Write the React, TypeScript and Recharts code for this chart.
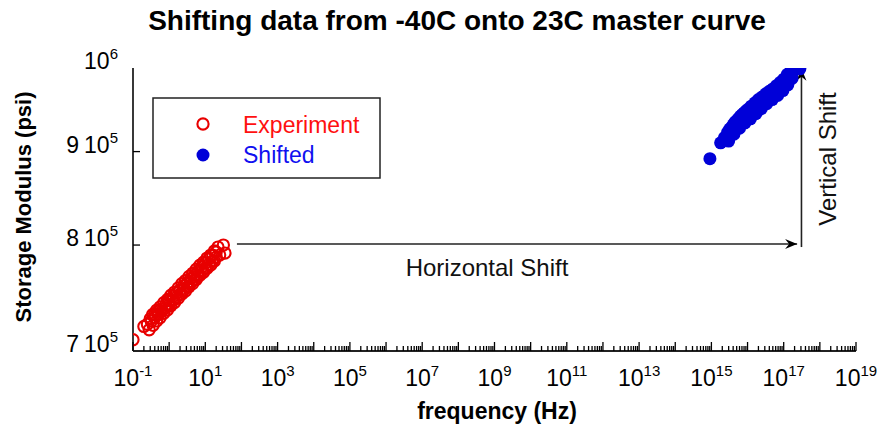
import React from "react";
import { ScatterChart, Scatter, XAxis, YAxis, ReferenceLine } from "recharts";

// Storage modulus measured at -40C (several sweeps)
const experimentFreq = [
  0.1, 0.2, 0.3, 0.4, 0.5, 0.6, 0.8, 1.0, 1.3, 1.6, 2.0, 2.5, 3.2, 4.0, 5.0,
  6.3, 8.0, 10, 12.6, 16, 20, 31.6,
  0.25, 0.32, 0.4, 0.5, 0.63, 0.79, 1.0, 1.26, 1.58, 2.0, 2.5, 3.2, 4.0, 5.0,
  6.3, 8.0, 10, 12.6, 15.8, 20, 25, 35,
  0.35, 0.45, 0.56, 0.71, 0.9, 1.12, 1.41, 1.78, 2.24, 2.82, 3.55, 4.47, 5.62,
  7.08, 8.91, 11.2, 14.1, 17.8, 22.4,
  0.28, 0.36, 0.45, 0.56, 0.71, 0.89, 1.12, 1.41, 1.78, 2.24, 2.82, 3.55,
  4.47, 5.62, 7.08, 8.91, 11.2, 14.1, 17.8,
];
const experimentModulus = [
  7.1e5, 7.22e5, 7.29e5, 7.33e5, 7.36e5, 7.38e5, 7.42e5, 7.46e5, 7.5e5, 7.53e5,
  7.56e5, 7.6e5, 7.63e5, 7.67e5, 7.7e5, 7.74e5, 7.78e5, 7.82e5, 7.86e5, 7.9e5,
  7.93e5, 8.0e5,
  7.24e5, 7.27e5, 7.3e5, 7.33e5, 7.36e5, 7.39e5, 7.42e5, 7.46e5, 7.49e5,
  7.52e5, 7.56e5, 7.59e5, 7.63e5, 7.66e5, 7.7e5, 7.74e5, 7.77e5, 7.81e5,
  7.84e5, 7.88e5, 7.9e5, 7.92e5,
  7.33e5, 7.37e5, 7.4e5, 7.44e5, 7.47e5, 7.51e5, 7.54e5, 7.58e5, 7.62e5,
  7.65e5, 7.69e5, 7.72e5, 7.76e5, 7.8e5, 7.83e5, 7.87e5, 7.9e5, 7.94e5, 7.98e5,
  7.19e5, 7.23e5, 7.27e5, 7.3e5, 7.34e5, 7.37e5, 7.41e5, 7.44e5, 7.48e5,
  7.52e5, 7.55e5, 7.59e5, 7.62e5, 7.66e5, 7.7e5, 7.73e5, 7.77e5, 7.8e5, 7.84e5,
];

// Same data after shifting onto the 23C master curve
const shiftedFreq = [
  9.1e14, 1.8e15, 2.3e15, 2.8e15, 3.2e15, 3.6e15, 4.0e15, 4.5e15, 5.0e15,
  5.6e15, 6.3e15, 7.1e15, 8.0e15, 9.0e15, 1.0e16, 1.26e16, 1.6e16, 2.0e16,
  2.5e16, 3.2e16, 4.0e16, 5.0e16, 6.3e16, 8.0e16, 1.0e17, 1.26e17, 1.6e17,
  2.0e17, 2.5e17, 2.8e17,
  2.5e15, 3.5e15, 5e15, 7e15, 1e16, 1.4e16, 2e16, 2.8e16, 4e16, 5.6e16, 8e16,
  1.1e17, 1.5e17, 1.8e17,
  3e15, 4.2e15, 6e15, 8.5e15, 1.2e16, 1.7e16, 2.4e16, 3.4e16, 4.8e16, 6.8e16,
  9.5e16, 1.3e17, 1.7e17,
];
const shiftedModulus = [
  8.92e5, 9.1e5, 9.16e5, 9.22e5, 9.26e5, 9.28e5, 9.31e5, 9.34e5, 9.36e5,
  9.38e5, 9.41e5, 9.43e5, 9.45e5, 9.47e5, 9.49e5, 9.53e5, 9.57e5, 9.61e5,
  9.64e5, 9.68e5, 9.71e5, 9.74e5, 9.78e5, 9.82e5, 9.86e5, 9.92e5, 9.97e5,
  9.99e5, 1.0e6, 9.99e5,
  9.13e5, 9.2e5, 9.29e5, 9.36e5, 9.42e5, 9.48e5, 9.55e5, 9.6e5, 9.66e5,
  9.71e5, 9.76e5, 9.82e5, 9.9e5, 9.95e5,
  9.12e5, 9.2e5, 9.27e5, 9.33e5, 9.38e5, 9.44e5, 9.5e5, 9.56e5, 9.61e5,
  9.66e5, 9.72e5, 9.79e5, 9.87e5,
];

// Arrow end points [freq, modulus]
const horizontalArrow = [
  [75, 8.01e5],
  [2.35e17, 8.01e5],
];
const verticalArrow = [
  [3.1e17, 7.98e5],
  [3.1e17, 9.99e5],
];

const xDomain = [0.1, 1e19];
const xLabelExponents = [-1, 1, 3, 5, 7, 9, 11, 13, 15, 17, 19];
const yTickValues = [7e5, 8e5, 9e5, 1e6];
const yTickLabels = [
  { digit: "7", sup: "5" },
  { digit: "8", sup: "5" },
  { digit: "9", sup: "5" },
  { digit: "", sup: "6" },
];

const FONT = "'Liberation Sans', Arial, Helvetica, sans-serif";
const RED = "#e80000";
const BLUE = "#0000d8";

const W = 878;
const H = 429;
const PLOT = { left: 133, right: 856, top: 68, bottom: 351 };

// decade ticks plus 2..9 minor ticks for the log frequency axis
const xTicks: number[] = [];
for (let e = -1; e < 19; e++) {
  for (let k = 1; k <= 9; k++) xTicks.push(k * Math.pow(10, e));
}
xTicks.push(1e19);

const experimentData = experimentFreq.map((f, i) => ({ f, g: experimentModulus[i] }));
const shiftedData = shiftedFreq.map((f, i) => ({ f, g: shiftedModulus[i] }));

const isDecade = (v: number) => {
  const l = Math.log10(v);
  return Math.abs(l - Math.round(l)) < 1e-6;
};

const makeXTick = (side: "bottom" | "top") => (props: any) => {
  const { x, y, payload } = props;
  const v = payload.value;
  const major = isDecade(v);
  const dir = side === "bottom" ? -1 : 1;
  const len = major ? 9 : 5;
  const exp = Math.round(Math.log10(v));
  const labelled = side === "bottom" && major && xLabelExponents.includes(exp);
  return (
    <g>
      <line x1={x} x2={x} y1={y} y2={y + dir * len} stroke="#000" strokeWidth={1.3} />
      {labelled && (
        <text x={x} y={y + 35} textAnchor="middle" fontFamily={FONT} fontSize={23} fill="#000">
          10
          <tspan dy={-10} fontSize={15}>
            {exp}
          </tspan>
        </text>
      )}
    </g>
  );
};

const makeYTick = (side: "left" | "right") => (props: any) => {
  const { x, y, payload } = props;
  const dir = side === "left" ? 1 : -1;
  const idx = yTickValues.findIndex((t) => Math.abs(t - payload.value) < 1);
  const lab = yTickLabels[idx];
  const edge = idx === 0 || idx === yTickValues.length - 1;
  return (
    <g>
      {!edge && <line x1={x} x2={x + dir * 7} y1={y} y2={y} stroke="#000" strokeWidth={1.3} />}
      {side === "left" && lab && (
        <text x={x - 15} y={y + 1} textAnchor="end" fontFamily={FONT} fontSize={23} fill="#000">
          {lab.digit}
          <tspan dx={lab.digit ? 5 : 0}>10</tspan>
          <tspan dy={-10} fontSize={15}>
            {lab.sup}
          </tspan>
        </text>
      )}
    </g>
  );
};

const OpenCircle = (props: any) => (
  <circle cx={props.cx} cy={props.cy} r={5.6} fill="none" stroke={RED} strokeWidth={2.1} />
);
const FilledCircle = (props: any) => (
  <circle cx={props.cx} cy={props.cy} r={6.5} fill={BLUE} />
);

// line with a notched arrow head at (x2, y2)
const Arrow = (props: any) => {
  const { x1, y1, x2, y2 } = props;
  const ang = Math.atan2(y2 - y1, x2 - x1);
  const pt = (back: number, side: number) => {
    const px = x2 - back * Math.cos(ang) - side * Math.sin(ang);
    const py = y2 - back * Math.sin(ang) + side * Math.cos(ang);
    return `${px},${py}`;
  };
  return (
    <g>
      <line x1={x1} y1={y1} x2={x2} y2={y2} stroke="#222" strokeWidth={1.6} />
      <polygon points={`${pt(0, 0)} ${pt(12, 5)} ${pt(8, 0)} ${pt(12, -5)}`} fill="#000" />
    </g>
  );
};

export default function App() {
  return (
    <div style={{ position: "absolute", left: 0, top: 0, width: W, height: H, background: "#fff" }}>
      <ScatterChart
        width={W}
        height={H}
        margin={{ top: PLOT.top, right: W - PLOT.right, bottom: 0, left: 0 }}
      >
        <XAxis
          xAxisId="bottom"
          dataKey="f"
          type="number"
          scale="log"
          domain={xDomain}
          allowDataOverflow
          ticks={xTicks}
          interval={0}
          orientation="bottom"
          height={H - PLOT.bottom}
          tickSize={0}
          tickMargin={0}
          tickLine={false}
          axisLine={{ stroke: "#222", strokeWidth: 1.8 }}
          tick={makeXTick("bottom")}
        />
        <XAxis
          xAxisId="top"
          type="number"
          scale="log"
          domain={xDomain}
          allowDataOverflow
          ticks={xTicks}
          interval={0}
          orientation="top"
          height={0}
          tickSize={0}
          tickMargin={0}
          tickLine={false}
          axisLine={{ stroke: "#222", strokeWidth: 1.8 }}
          tick={makeXTick("top")}
        />
        <YAxis
          yAxisId="left"
          dataKey="g"
          type="number"
          scale="log"
          domain={[7e5, 1e6]}
          allowDataOverflow
          ticks={yTickValues}
          interval={0}
          orientation="left"
          width={PLOT.left}
          tickSize={0}
          tickMargin={0}
          tickLine={false}
          axisLine={{ stroke: "#222", strokeWidth: 1.8 }}
          tick={makeYTick("left")}
        />
        <YAxis
          yAxisId="right"
          type="number"
          scale="log"
          domain={[7e5, 1e6]}
          allowDataOverflow
          ticks={yTickValues}
          interval={0}
          orientation="right"
          width={0}
          tickSize={0}
          tickMargin={0}
          tickLine={false}
          axisLine={{ stroke: "#222", strokeWidth: 1.8 }}
          tick={makeYTick("right")}
        />
        <ReferenceLine
          xAxisId="bottom"
          yAxisId="left"
          segment={horizontalArrow.map(([x, y]) => ({ x, y }))}
          shape={Arrow}
        />
        <ReferenceLine
          xAxisId="bottom"
          yAxisId="left"
          segment={verticalArrow.map(([x, y]) => ({ x, y }))}
          shape={Arrow}
        />
        <Scatter
          name="Experiment"
          data={experimentData}
          xAxisId="bottom"
          yAxisId="left"
          shape={OpenCircle}
          isAnimationActive={false}
        />
        <Scatter
          name="Shifted"
          data={shiftedData}
          xAxisId="bottom"
          yAxisId="left"
          shape={FilledCircle}
          isAnimationActive={false}
        />
      </ScatterChart>

      {/* titles, annotations and legend box */}
      <svg
        width={W}
        height={H}
        style={{ position: "absolute", left: 0, top: 0, pointerEvents: "none" }}
        fontFamily={FONT}
      >
        <text x={457} y={30} textAnchor="middle" fontSize={28} fontWeight="bold" fill="#000">
          Shifting data from -40C onto 23C master curve
        </text>
        <text x={497} y={419} textAnchor="middle" fontSize={23} fontWeight="bold" fill="#000">
          frequency (Hz)
        </text>
        <text
          transform="translate(31,207) rotate(-90)"
          textAnchor="middle"
          fontSize={22}
          fontWeight="bold"
          fill="#000"
        >
          Storage Modulus (psi)
        </text>
        <text x={487} y={276} textAnchor="middle" fontSize={24} fill="#111">
          Horizontal Shift
        </text>
        <text
          transform="translate(836,159) rotate(-90)"
          textAnchor="middle"
          fontSize={24}
          fill="#111"
        >
          Vertical Shift
        </text>

        <rect x={153} y={98} width={227} height={80} fill="#fff" stroke="#222" strokeWidth={1.5} />
        <circle cx={203} cy={124} r={5.6} fill="none" stroke={RED} strokeWidth={2.1} />
        <circle cx={203} cy={155} r={6.5} fill={BLUE} />
        <text x={243} y={133} fontSize={23} fill="#ff1010">
          Experiment
        </text>
        <text x={243} y={163} fontSize={23} fill="#1010f0">
          Shifted
        </text>
      </svg>
    </div>
  );
}
